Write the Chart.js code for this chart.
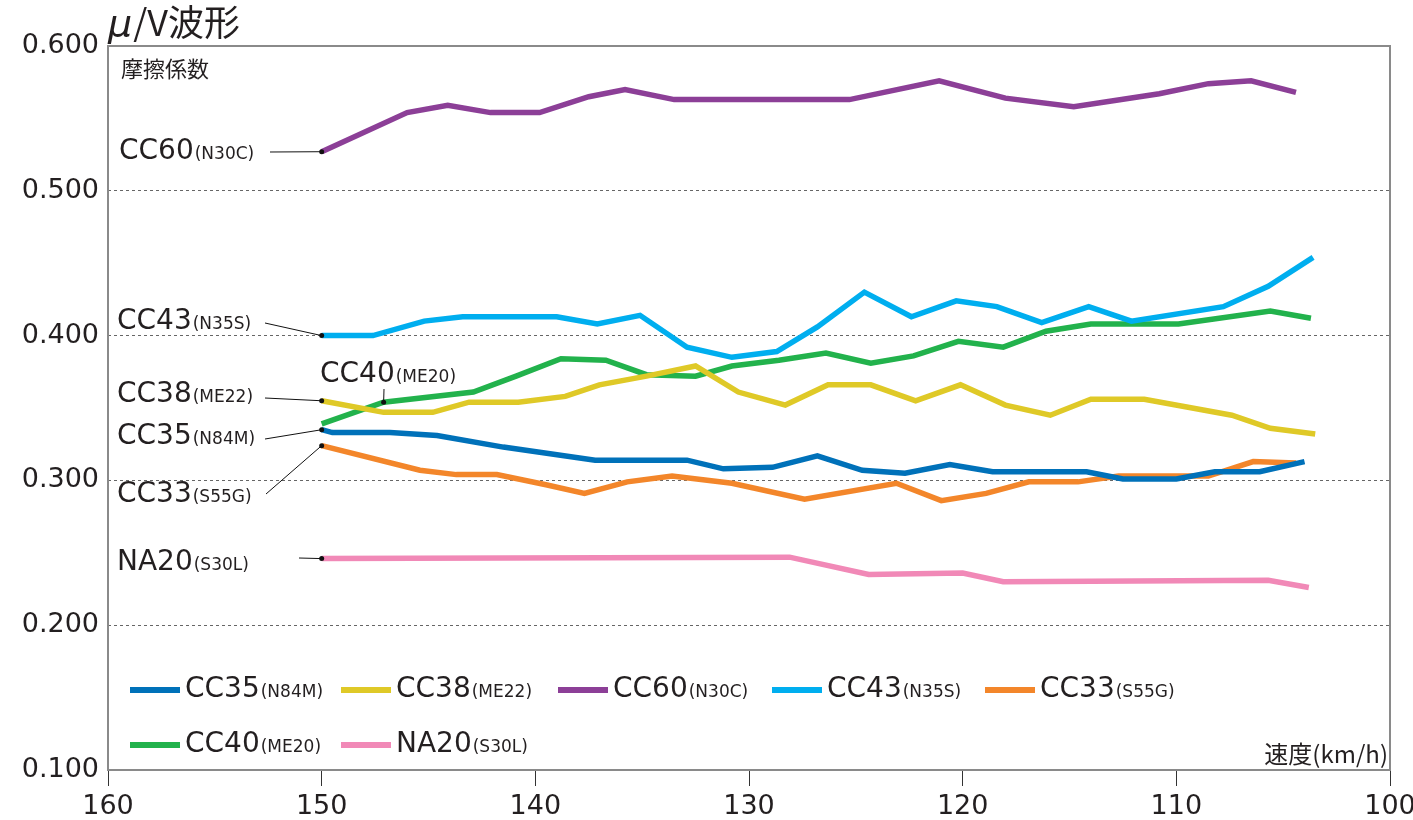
<!DOCTYPE html>
<html>
<head>
<meta charset="utf-8">
<script src="https://cdn.jsdelivr.net/npm/chart.js@4/dist/chart.umd.min.js"></script>
<style>
  body { margin: 0; background: #fff; }
  canvas { display: block; }
</style>
</head>
<body>
<canvas id="muChart" width="1413" height="820"></canvas>
<script>
// speeds (km/h) and friction coefficients
const cc35Speed = [150, 149.5, 146.8, 144.6, 141.5, 137.2, 132.9, 131.2, 128.9, 126.8, 124.7, 122.7, 120.6, 118.6, 114.2, 112.5, 110.0, 108.2, 106.1, 104.0];
const cc35Mu = [0.335, 0.333, 0.333, 0.331, 0.323, 0.314, 0.314, 0.308, 0.309, 0.317, 0.307, 0.305, 0.311, 0.306, 0.306, 0.301, 0.301, 0.306, 0.306, 0.313];

const cc38Speed = [150, 147.1, 144.8, 143.1, 140.8, 138.6, 137.0, 134.8, 132.5, 130.5, 128.3, 126.3, 124.3, 122.2, 120.1, 118.0, 115.9, 114.0, 111.5, 107.4, 105.6, 103.5];
const cc38Mu = [0.355, 0.347, 0.347, 0.354, 0.354, 0.358, 0.366, 0.372, 0.379, 0.361, 0.352, 0.366, 0.366, 0.355, 0.366, 0.352, 0.345, 0.356, 0.356, 0.345, 0.336, 0.332];

const cc60Speed = [150, 146.0, 144.1, 142.1, 139.8, 137.5, 135.8, 133.5, 125.3, 121.1, 118.0, 114.8, 110.8, 108.5, 106.5, 104.4];
const cc60Mu = [0.527, 0.554, 0.559, 0.554, 0.554, 0.565, 0.570, 0.563, 0.563, 0.576, 0.564, 0.558, 0.567, 0.574, 0.576, 0.568];

const cc43Speed = [150, 147.6, 145.2, 143.4, 139.0, 137.1, 135.1, 132.9, 130.8, 128.7, 126.8, 124.6, 122.4, 120.3, 118.4, 116.3, 114.1, 112.1, 107.8, 105.7, 103.6];
const cc43Mu = [0.400, 0.400, 0.410, 0.413, 0.413, 0.408, 0.414, 0.392, 0.385, 0.389, 0.406, 0.430, 0.413, 0.424, 0.420, 0.409, 0.420, 0.410, 0.420, 0.434, 0.454];

const cc33Speed = [150, 145.4, 143.7, 141.8, 139.5, 137.7, 135.7, 133.6, 130.8, 127.4, 123.1, 121.0, 118.9, 116.9, 114.6, 112.7, 108.5, 106.4, 104.4];
const cc33Mu = [0.324, 0.307, 0.304, 0.304, 0.297, 0.291, 0.299, 0.303, 0.298, 0.287, 0.298, 0.286, 0.291, 0.299, 0.299, 0.303, 0.303, 0.313, 0.312];

const cc40Speed = [150, 147.1, 142.9, 140.9, 138.8, 136.7, 134.8, 132.5, 130.8, 128.6, 126.4, 124.3, 122.3, 120.2, 118.1, 116.1, 114.0, 109.9, 105.6, 103.7];
const cc40Mu = [0.339, 0.354, 0.361, 0.372, 0.384, 0.383, 0.373, 0.372, 0.379, 0.383, 0.388, 0.381, 0.386, 0.396, 0.392, 0.403, 0.408, 0.408, 0.417, 0.412];

const na20Speed = [150, 128.1, 124.4, 120.0, 118.1, 105.7, 103.8];
const na20Mu = [0.246, 0.247, 0.235, 0.236, 0.230, 0.231, 0.226];

const names = ['CC35', 'CC38', 'CC60', 'CC43', 'CC33', 'CC40', 'NA20'];
const codes = ['(N84M)', '(ME22)', '(N30C)', '(N35S)', '(S55G)', '(ME20)', '(S30L)'];
const colors = ['#0071b9', '#dfc927', '#8c3f97', '#00aeef', '#f3862a', '#22b24c', '#f189b7'];
const speeds = [cc35Speed, cc38Speed, cc60Speed, cc43Speed, cc33Speed, cc40Speed, na20Speed];
const mus = [cc35Mu, cc38Mu, cc60Mu, cc43Mu, cc33Mu, cc40Mu, na20Mu];

const xTicks = [160, 150, 140, 130, 120, 110, 100];
const yTicks = [0.1, 0.2, 0.3, 0.4, 0.5, 0.6];

const FONT = '"DejaVu Sans", "Noto Sans CJK JP", sans-serif';
const INK = '#231f20';

const datasets = names.map((n, i) => ({
    label: n + codes[i],
    data: speeds[i].map((s, k) => ({x: s, y: mus[i][k]})),
    borderColor: colors[i],
    backgroundColor: colors[i],
    borderWidth: 5.5,
    pointRadius: 0,
    tension: 0,
    fill: false
}));

// labels on the left: series index, point index, text pos, leader start
const callouts = [
    {s: 2, p: 0, tx: 119, ty: 152, lx: 270, ly: 152},
    {s: 3, p: 0, tx: 117, ty: 322, lx: 265, ly: 323},
    {s: 5, p: 1, tx: 320, ty: 375, lx: 384, ly: 389},
    {s: 1, p: 0, tx: 117, ty: 395, lx: 265, ly: 398},
    {s: 0, p: 0, tx: 117, ty: 437, lx: 265, ly: 439},
    {s: 4, p: 0, tx: 117, ty: 495, lx: 266, ly: 494},
    {s: 6, p: 0, tx: 117, ty: 563, lx: 299, ly: 558}
];

// legend layout: rows and line start x
const legendRows = [
    {y: 690, items: [0, 1, 2, 3, 4], xs: [130, 341, 558, 772, 985]},
    {y: 745, items: [5, 6], xs: [130, 341]}
];

function drawName(ctx, x, y, big, small) {
    ctx.textAlign = 'left';
    ctx.textBaseline = 'middle';
    ctx.fillStyle = INK;
    ctx.font = '28px ' + FONT;
    ctx.fillText(big, x, y);
    const w = ctx.measureText(big).width;
    ctx.font = '17px ' + FONT;
    ctx.fillText(small, x + w + 1, y + 3);
}

const decorPlugin = {
    id: 'decor',
    afterDatasetsDraw(chart) {
        const ctx = chart.ctx;
        const a = chart.chartArea;
        const xs = chart.scales.x, ys = chart.scales.y;
        ctx.save();

        // plot frame
        ctx.strokeStyle = '#8a8a8a';
        ctx.lineWidth = 2;
        ctx.strokeRect(a.left, a.top, a.right - a.left, a.bottom - a.top);

        // title
        ctx.fillStyle = INK;
        ctx.textBaseline = 'alphabetic';
        ctx.textAlign = 'left';
        ctx.font = 'italic 38px ' + FONT;
        ctx.fillText('μ', 108, 36);
        const mw = ctx.measureText('μ').width;
        ctx.font = '36px "Noto Sans CJK JP", ' + FONT;
        ctx.fillText('/V波形', 108 + mw + 1, 36);

        ctx.textBaseline = 'middle';
        ctx.font = '22px "Noto Sans CJK JP", sans-serif';
        ctx.fillText('摩擦係数', 121, 69);
        ctx.textAlign = 'right';
        ctx.font = '24px "Noto Sans CJK JP", sans-serif';
        ctx.fillText('速度(km/h)', a.right - 2, 754);

        // callouts
        callouts.forEach(c => {
            const px = xs.getPixelForValue(speeds[c.s][c.p]);
            const py = ys.getPixelForValue(mus[c.s][c.p]);
            ctx.strokeStyle = '#111';
            ctx.lineWidth = 1;
            ctx.beginPath();
            ctx.moveTo(c.lx, c.ly);
            ctx.lineTo(px, py);
            ctx.stroke();
            ctx.fillStyle = '#111';
            ctx.beginPath();
            ctx.arc(px, py, 2.5, 0, Math.PI * 2);
            ctx.fill();
            drawName(ctx, c.tx, c.ty, names[c.s], codes[c.s]);
        });

        // legend
        legendRows.forEach(row => {
            row.items.forEach((idx, k) => {
                const x0 = row.xs[k];
                ctx.strokeStyle = colors[idx];
                ctx.lineWidth = 6;
                ctx.beginPath();
                ctx.moveTo(x0, row.y);
                ctx.lineTo(x0 + 50, row.y);
                ctx.stroke();
                drawName(ctx, x0 + 55, row.y, names[idx], codes[idx]);
            });
        });
        ctx.restore();
    }
};

new Chart(document.getElementById('muChart'), {
    type: 'line',
    data: {datasets: datasets},
    options: {
        responsive: false,
        devicePixelRatio: 1,
        animation: false,
        layout: {padding: {top: 46, right: 23, left: 0, bottom: 0}},
        plugins: {legend: {display: false}, tooltip: {enabled: false}, title: {display: false}},
        scales: {
            x: {
                type: 'linear',
                reverse: true,
                min: 100,
                max: 160,
                afterBuildTicks: s => { s.ticks = xTicks.map(v => ({value: v})); },
                afterFit: s => { s.height = 50; s.paddingLeft = 0; s.paddingRight = 0; },
                grid: {drawOnChartArea: false, drawTicks: true, tickLength: 16, tickColor: '#333', tickWidth: 1},
                border: {display: false},
                ticks: {color: INK, font: {size: 27, family: FONT}, padding: 5, maxRotation: 0}
            },
            y: {
                min: 0.1,
                max: 0.6,
                afterBuildTicks: s => { s.ticks = yTicks.map(v => ({value: v})); },
                afterFit: s => { s.width = 108; },
                grid: {drawTicks: false, color: '#666', lineWidth: 1},
                border: {display: false, dash: [3, 3]},
                ticks: {color: INK, font: {size: 27, family: FONT}, padding: 9, callback: v => v.toFixed(3)}
            }
        }
    },
    plugins: [decorPlugin]
});
</script>
</body>
</html>
